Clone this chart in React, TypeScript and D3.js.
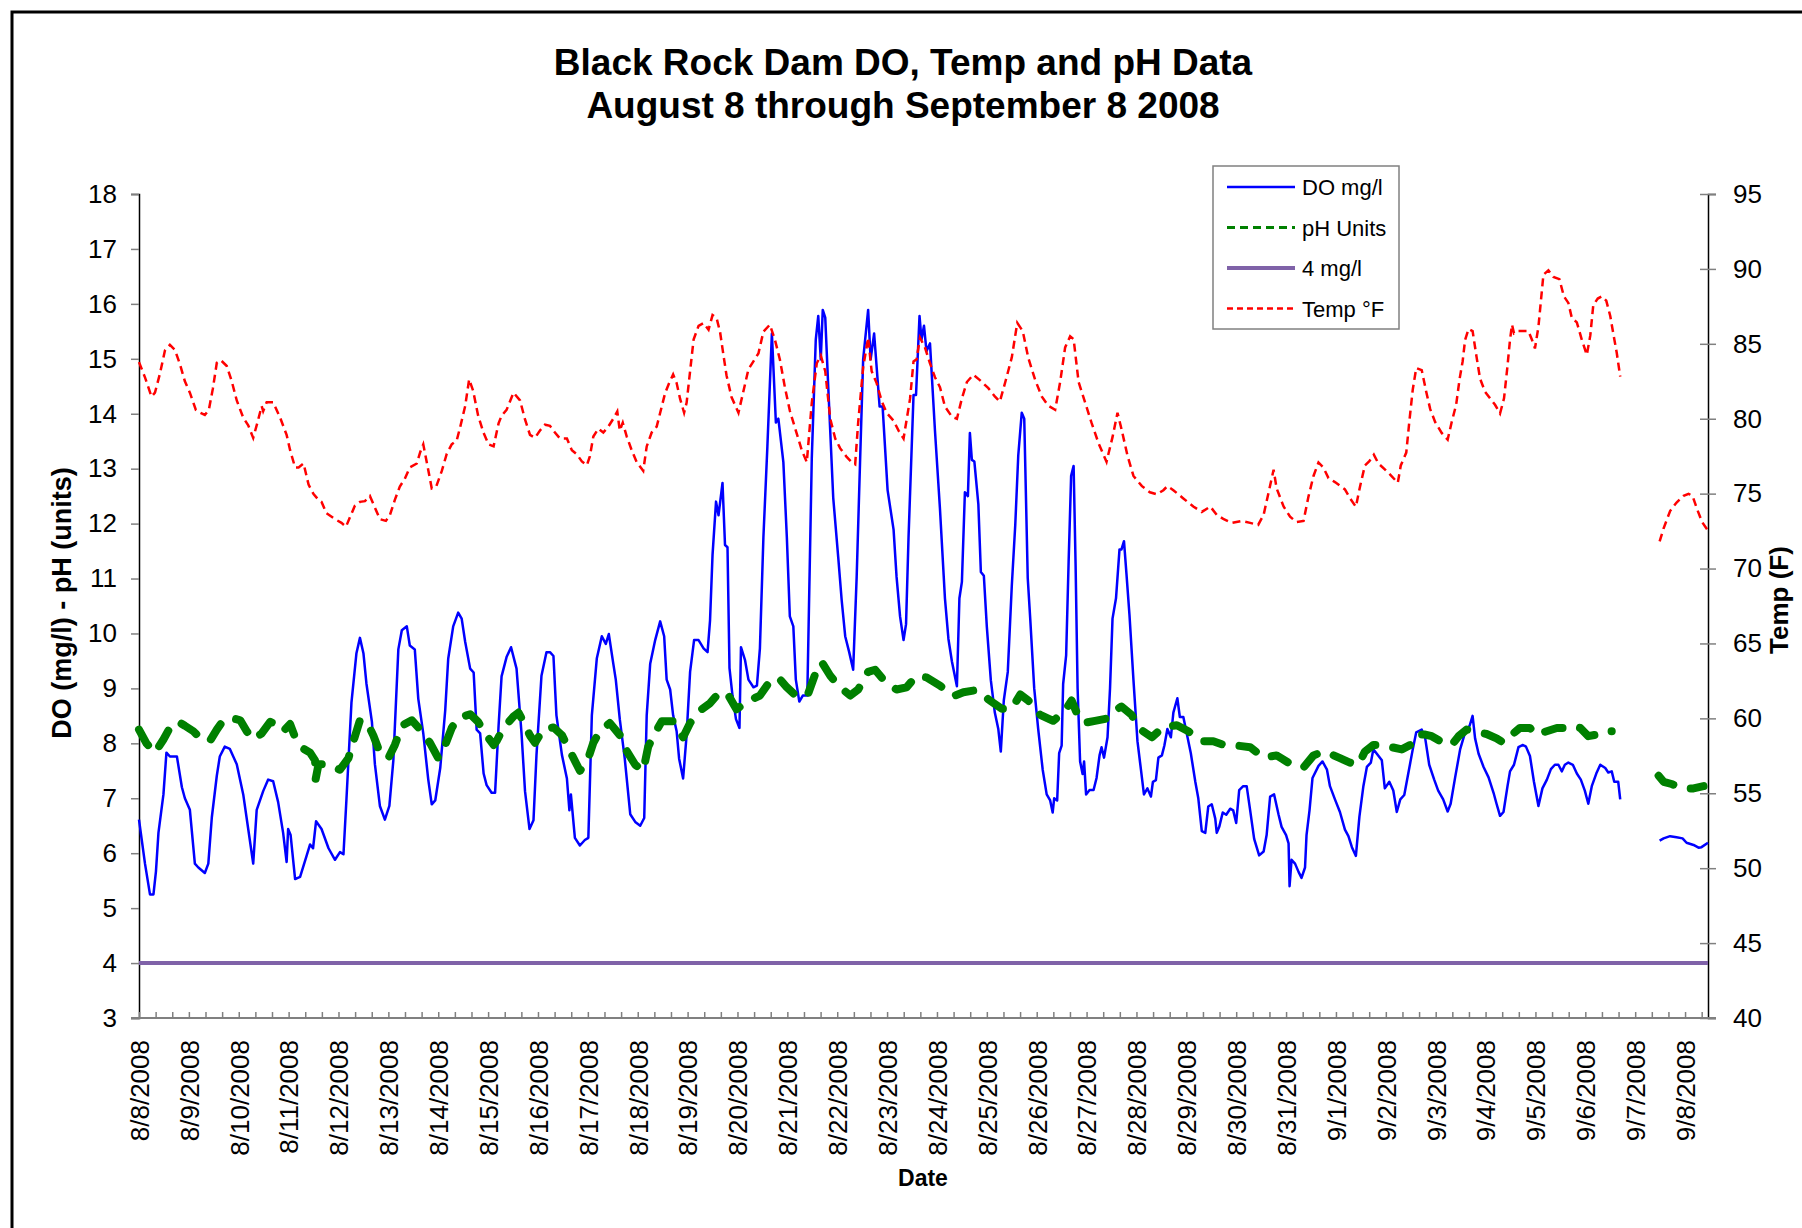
import { useEffect, useRef } from 'react';
import * as d3 from 'd3';

// Category labels under the x axis (one per day, on tick marks)
const dateLabels = [
  '8/8/2008', '8/9/2008', '8/10/2008', '8/11/2008', '8/12/2008', '8/13/2008', '8/14/2008', '8/15/2008',
  '8/16/2008', '8/17/2008', '8/18/2008', '8/19/2008', '8/20/2008', '8/21/2008', '8/22/2008', '8/23/2008',
  '8/24/2008', '8/25/2008', '8/26/2008', '8/27/2008', '8/28/2008', '8/29/2008', '8/30/2008', '8/31/2008',
  '9/1/2008', '9/2/2008', '9/3/2008', '9/4/2008', '9/5/2008', '9/6/2008', '9/7/2008', '9/8/2008',
];
const leftTicks = [3, 4, 5, 6, 7, 8, 9, 10, 11, 12, 13, 14, 15, 16, 17, 18];
const rightTicks = [40, 45, 50, 55, 60, 65, 70, 75, 80, 85, 90, 95];
const axisEndDay = 31.46;
const doLimit = 4;

type Pt = [number, number] | null;

// [days since 8/8 00:00, value]; null = logger gap
const doReadings: Pt[] = [
  [0.00, 6.61], [0.12, 5.81], [0.22, 5.25], [0.29, 5.25], [0.34, 5.67], [0.39, 6.37], [0.49, 7.07], [0.55, 7.83],
  [0.62, 7.76], [0.76, 7.76], [0.86, 7.20], [0.92, 7.00], [1.02, 6.79], [1.12, 5.81], [1.19, 5.74], [1.32, 5.64],
  [1.39, 5.81], [1.46, 6.65], [1.56, 7.41], [1.62, 7.76], [1.72, 7.94], [1.82, 7.90], [1.96, 7.62], [2.09, 7.07],
  [2.19, 6.44], [2.29, 5.81], [2.36, 6.79], [2.49, 7.13], [2.59, 7.34], [2.69, 7.31], [2.79, 6.93], [2.89, 6.37],
  [2.96, 5.84], [2.99, 6.44], [3.04, 6.33], [3.13, 5.53], [3.23, 5.57], [3.36, 5.95], [3.43, 6.16], [3.49, 6.09],
  [3.55, 6.58], [3.66, 6.44], [3.80, 6.09], [3.93, 5.88], [4.03, 6.02], [4.10, 5.98], [4.16, 6.99], [4.26, 8.74],
  [4.36, 9.64], [4.43, 9.92], [4.50, 9.64], [4.56, 9.09], [4.67, 8.39], [4.73, 7.62], [4.83, 6.86], [4.93, 6.61],
  [5.02, 6.86], [5.10, 7.69], [5.20, 9.71], [5.27, 10.06], [5.37, 10.13], [5.43, 9.78], [5.53, 9.71], [5.60, 8.81],
  [5.70, 8.18], [5.80, 7.34], [5.87, 6.89], [5.94, 6.96], [6.04, 7.55], [6.14, 8.60], [6.20, 9.54], [6.30, 10.13],
  [6.40, 10.38], [6.47, 10.27], [6.54, 9.85], [6.64, 9.36], [6.71, 9.29], [6.77, 8.25], [6.84, 8.18], [6.91, 7.45],
  [6.97, 7.24], [7.07, 7.10], [7.14, 7.10], [7.21, 8.32], [7.27, 9.22], [7.37, 9.57], [7.46, 9.75], [7.57, 9.36],
  [7.67, 8.18], [7.74, 7.13], [7.83, 6.44], [7.91, 6.60], [7.97, 7.79], [8.07, 9.23], [8.17, 9.66], [8.24, 9.66],
  [8.31, 9.59], [8.37, 8.51], [8.48, 7.79], [8.58, 7.36], [8.63, 6.78], [8.66, 7.07], [8.74, 6.28], [8.84, 6.14],
  [8.94, 6.24], [9.01, 6.28], [9.08, 8.51], [9.18, 9.55], [9.28, 9.95], [9.36, 9.81], [9.42, 9.99], [9.51, 9.45],
  [9.56, 9.16], [9.64, 8.44], [9.74, 7.72], [9.85, 6.71], [9.95, 6.57], [10.05, 6.50], [10.13, 6.64], [10.18, 8.51],
  [10.25, 9.45], [10.35, 9.88], [10.45, 10.22], [10.53, 9.95], [10.58, 9.16], [10.65, 8.98], [10.71, 8.51], [10.78, 8.22],
  [10.83, 7.72], [10.91, 7.36], [10.98, 8.15], [11.05, 9.30], [11.13, 9.88], [11.22, 9.88], [11.32, 9.73], [11.40, 9.66],
  [11.45, 10.24], [11.50, 11.43], [11.57, 12.40], [11.62, 12.15], [11.70, 12.74], [11.75, 11.61], [11.80, 11.57], [11.84, 9.37],
  [11.90, 8.87], [11.97, 8.44], [12.04, 8.28], [12.07, 9.75], [12.15, 9.52], [12.22, 9.16], [12.32, 9.02], [12.39, 9.05],
  [12.45, 9.73], [12.52, 11.75], [12.60, 13.41], [12.69, 15.46], [12.77, 13.84], [12.82, 13.91], [12.92, 13.12], [12.99, 11.75],
  [13.05, 10.31], [13.12, 10.13], [13.17, 9.16], [13.24, 8.76], [13.31, 8.87], [13.40, 8.87], [13.49, 13.19], [13.57, 15.35],
  [13.62, 15.78], [13.67, 14.99], [13.71, 15.89], [13.76, 15.75], [13.82, 14.49], [13.92, 12.47], [14.02, 11.39], [14.09, 10.60],
  [14.16, 9.95], [14.24, 9.66], [14.32, 9.34], [14.39, 11.03], [14.46, 13.19], [14.52, 14.99], [14.62, 15.89], [14.67, 14.99],
  [14.74, 15.46], [14.85, 14.13], [14.91, 14.13], [15.01, 12.61], [15.13, 11.89], [15.19, 11.03], [15.26, 10.31], [15.33, 9.88],
  [15.38, 10.17], [15.43, 11.75], [15.53, 14.34], [15.58, 14.34], [15.65, 15.78], [15.69, 15.35], [15.74, 15.60], [15.79, 15.14],
  [15.86, 15.28], [15.96, 13.69], [16.06, 12.27], [16.16, 10.64], [16.23, 9.90], [16.30, 9.49], [16.40, 9.04], [16.45, 10.64],
  [16.50, 10.94], [16.56, 12.57], [16.62, 12.50], [16.66, 13.65], [16.70, 13.16], [16.75, 13.13], [16.83, 12.35], [16.88, 11.12],
  [16.94, 11.05], [17.00, 10.12], [17.08, 9.15], [17.16, 8.56], [17.23, 8.26], [17.28, 7.85], [17.34, 8.78], [17.42, 9.30],
  [17.50, 10.86], [17.57, 11.98], [17.63, 13.24], [17.70, 14.02], [17.75, 13.91], [17.82, 11.01], [17.87, 10.27], [17.95, 9.00],
  [18.03, 8.26], [18.12, 7.52], [18.20, 7.07], [18.27, 6.96], [18.32, 6.74], [18.35, 7.00], [18.41, 6.96], [18.45, 7.82],
  [18.50, 7.96], [18.53, 9.08], [18.59, 9.60], [18.64, 11.31], [18.69, 12.87], [18.74, 13.05], [18.78, 11.23], [18.82, 9.00],
  [18.87, 7.67], [18.92, 7.44], [18.95, 7.67], [18.99, 7.07], [19.06, 7.15], [19.14, 7.15], [19.20, 7.37], [19.26, 7.78],
  [19.30, 7.93], [19.35, 7.74], [19.42, 8.11], [19.47, 9.00], [19.52, 10.27], [19.59, 10.64], [19.66, 11.53], [19.70, 11.53],
  [19.75, 11.68], [19.80, 11.08], [19.86, 10.34], [19.94, 9.15], [20.02, 8.04], [20.09, 7.52], [20.15, 7.07], [20.22, 7.18],
  [20.29, 7.03], [20.33, 7.30], [20.39, 7.33], [20.44, 7.74], [20.51, 7.78], [20.56, 7.96], [20.62, 8.26], [20.69, 8.11],
  [20.74, 8.56], [20.82, 8.82], [20.87, 8.48], [20.94, 8.48], [20.99, 8.26], [21.09, 7.82], [21.18, 7.30], [21.24, 7.00],
  [21.31, 6.40], [21.38, 6.37], [21.44, 6.85], [21.51, 6.89], [21.58, 6.63], [21.61, 6.37], [21.66, 6.48], [21.73, 6.74],
  [21.80, 6.70], [21.88, 6.81], [21.94, 6.78], [22.00, 6.55], [22.06, 7.15], [22.14, 7.22], [22.21, 7.22], [22.28, 6.78],
  [22.36, 6.26], [22.46, 5.96], [22.55, 6.03], [22.61, 6.33], [22.68, 7.03], [22.76, 7.07], [22.85, 6.70], [22.91, 6.48],
  [23.00, 6.33], [23.05, 6.18], [23.07, 5.40], [23.11, 5.88], [23.18, 5.81], [23.25, 5.66], [23.31, 5.55], [23.38, 5.74],
  [23.41, 6.33], [23.47, 6.78], [23.53, 7.37], [23.65, 7.59], [23.73, 7.67], [23.82, 7.52], [23.88, 7.22], [23.98, 6.98],
  [24.08, 6.75], [24.18, 6.43], [24.25, 6.31], [24.32, 6.11], [24.40, 5.95], [24.47, 6.66], [24.55, 7.22], [24.62, 7.57],
  [24.70, 7.65], [24.75, 7.89], [24.82, 7.81], [24.92, 7.69], [24.98, 7.18], [25.07, 7.30], [25.15, 7.14], [25.22, 6.75],
  [25.29, 6.98], [25.37, 7.06], [25.45, 7.45], [25.54, 7.89], [25.61, 8.20], [25.72, 8.25], [25.79, 8.09], [25.87, 7.61],
  [25.97, 7.34], [26.05, 7.14], [26.15, 6.98], [26.24, 6.76], [26.30, 6.90], [26.39, 7.38], [26.49, 7.89], [26.59, 8.20],
  [26.68, 8.32], [26.74, 8.50], [26.79, 8.09], [26.86, 7.81], [26.96, 7.57], [27.06, 7.38], [27.16, 7.10], [27.22, 6.90],
  [27.29, 6.68], [27.36, 6.75], [27.44, 7.22], [27.49, 7.49], [27.57, 7.61], [27.66, 7.93], [27.75, 7.97], [27.81, 7.94],
  [27.89, 7.77], [27.97, 7.30], [28.06, 6.86], [28.14, 7.18], [28.23, 7.34], [28.31, 7.53], [28.39, 7.61], [28.46, 7.61],
  [28.53, 7.49], [28.59, 7.61], [28.66, 7.65], [28.75, 7.61], [28.83, 7.45], [28.91, 7.34], [28.99, 7.14], [29.06, 6.90],
  [29.13, 7.22], [29.22, 7.45], [29.30, 7.61], [29.40, 7.55], [29.46, 7.47], [29.53, 7.49], [29.58, 7.30], [29.66, 7.30],
  [29.70, 6.98], null,
  [30.49, 6.23], [30.57, 6.27], [30.70, 6.31], [30.83, 6.29], [30.95, 6.27], [31.03, 6.19], [31.17, 6.15], [31.27, 6.10],
  [31.33, 6.11], [31.46, 6.19],
];

const phReadings: Pt[] = [
  [0.00, 8.25], [0.15, 8.00], [0.32, 7.83], [0.49, 8.07], [0.66, 8.35], [0.79, 8.39], [0.92, 8.32], [1.09, 8.22],
  [1.26, 8.07], [1.42, 8.04], [1.56, 8.25], [1.69, 8.42], [1.86, 8.46], [2.03, 8.42], [2.16, 8.22], [2.29, 8.07],
  [2.46, 8.18], [2.63, 8.39], [2.76, 8.35], [2.89, 8.22], [3.03, 8.35], [3.13, 8.11], [3.30, 7.90], [3.43, 7.83],
  [3.53, 7.69], [3.54, 7.34], [3.60, 7.62], [3.76, 7.62], [4.03, 7.52], [4.20, 7.73], [4.30, 8.04], [4.43, 8.42],
  [4.57, 8.39], [4.70, 8.14], [4.83, 7.83], [5.00, 7.73], [5.13, 7.97], [5.27, 8.32], [5.47, 8.42], [5.67, 8.22],
  [5.84, 8.00], [6.00, 7.73], [6.14, 7.97], [6.27, 8.28], [6.40, 8.46], [6.64, 8.53], [6.80, 8.39], [6.94, 8.18],
  [7.11, 7.97], [7.17, 8.04], [7.31, 8.28], [7.51, 8.49], [7.61, 8.56], [7.71, 8.39], [7.84, 8.14], [7.94, 8.01],
  [8.11, 8.26], [8.31, 8.29], [8.48, 8.15], [8.64, 7.86], [8.84, 7.50], [8.98, 7.65], [9.11, 8.01], [9.24, 8.22],
  [9.44, 8.37], [9.64, 8.15], [9.78, 7.86], [9.95, 7.61], [10.11, 7.50], [10.21, 7.94], [10.35, 8.19], [10.48, 8.40],
  [10.71, 8.40], [10.91, 8.11], [11.05, 8.37], [11.22, 8.58], [11.45, 8.73], [11.65, 8.94], [11.82, 8.87], [11.98, 8.62],
  [12.19, 8.76], [12.45, 8.87], [12.62, 9.09], [12.82, 9.20], [12.99, 9.02], [13.22, 8.83], [13.42, 8.91], [13.59, 9.34],
  [13.69, 9.48], [13.86, 9.23], [14.02, 9.05], [14.26, 8.87], [14.42, 8.98], [14.62, 9.30], [14.76, 9.34], [14.96, 9.12],
  [15.19, 8.98], [15.39, 9.02], [15.59, 9.23], [15.79, 9.20], [16.06, 9.05], [16.33, 8.86], [16.53, 8.93], [16.80, 8.97],
  [17.06, 8.78], [17.30, 8.63], [17.50, 8.63], [17.67, 8.89], [17.83, 8.78], [18.07, 8.52], [18.33, 8.41], [18.54, 8.56],
  [18.70, 8.78], [18.80, 8.56], [18.94, 8.37], [19.17, 8.41], [19.40, 8.45], [19.50, 8.56], [19.70, 8.67], [19.90, 8.52],
  [20.07, 8.26], [20.31, 8.11], [20.54, 8.30], [20.81, 8.33], [21.04, 8.22], [21.31, 8.04], [21.54, 8.04], [21.78, 7.96],
  [22.01, 7.96], [22.28, 7.93], [22.55, 7.74], [22.81, 7.78], [23.08, 7.63], [23.35, 7.56], [23.55, 7.78], [23.75, 7.85],
  [23.88, 7.81], [24.08, 7.73], [24.28, 7.65], [24.45, 7.61], [24.58, 7.85], [24.75, 7.97], [24.89, 7.97], [25.12, 7.93],
  [25.32, 7.89], [25.49, 7.97], [25.62, 8.16], [25.79, 8.16], [25.92, 8.13], [26.15, 8.01], [26.32, 7.97], [26.46, 8.13],
  [26.62, 8.25], [26.82, 8.21], [27.02, 8.17], [27.22, 8.09], [27.36, 8.01], [27.49, 8.13], [27.69, 8.28], [27.89, 8.28],
  [27.99, 8.16], [28.19, 8.21], [28.43, 8.28], [28.56, 8.28], [28.73, 8.32], [28.90, 8.28], [29.06, 8.13], [29.23, 8.16],
  [29.36, 8.22], [29.53, 8.22], null,
  [30.47, 7.41], [30.57, 7.30], [30.73, 7.26], [30.97, 7.18], [31.17, 7.18], [31.37, 7.22],
];

const tempReadings: Pt[] = [
  [0.00, 83.78], [0.12, 82.76], [0.25, 81.48], [0.32, 81.74], [0.42, 83.01], [0.52, 84.55], [0.62, 84.93], [0.72, 84.60],
  [0.82, 83.65], [0.92, 82.50], [1.02, 81.74], [1.14, 80.59], [1.22, 80.41], [1.32, 80.25], [1.40, 80.59], [1.48, 81.99],
  [1.56, 83.73], [1.64, 83.91], [1.76, 83.52], [1.86, 82.50], [1.96, 81.22], [2.09, 80.07], [2.19, 79.56], [2.29, 78.72],
  [2.37, 79.69], [2.46, 80.84], [2.49, 80.51], [2.56, 81.10], [2.69, 81.10], [2.83, 80.07], [2.96, 78.92], [3.03, 77.90],
  [3.13, 76.75], [3.20, 76.75], [3.30, 77.01], [3.40, 75.60], [3.50, 74.97], [3.60, 74.58], [3.66, 74.45], [3.76, 73.69],
  [3.93, 73.30], [4.06, 73.05], [4.15, 72.79], [4.23, 73.43], [4.33, 74.20], [4.43, 74.45], [4.53, 74.50], [4.63, 74.84],
  [4.73, 74.07], [4.83, 73.30], [4.95, 73.18], [5.03, 73.56], [5.13, 74.58], [5.23, 75.48], [5.33, 75.99], [5.43, 76.75],
  [5.57, 77.01], [5.64, 77.78], [5.70, 78.29], [5.79, 76.75], [5.87, 75.35], [5.96, 75.48], [6.07, 76.50], [6.17, 77.65],
  [6.27, 78.29], [6.37, 78.54], [6.44, 79.44], [6.54, 80.84], [6.62, 82.63], [6.70, 81.86], [6.80, 80.20], [6.91, 79.05],
  [7.01, 78.29], [7.11, 78.16], [7.21, 79.69], [7.27, 80.20], [7.37, 80.59], [7.51, 81.74], [7.64, 81.22], [7.74, 79.95],
  [7.84, 78.92], [7.94, 78.73], [8.04, 79.21], [8.14, 79.60], [8.24, 79.53], [8.34, 79.08], [8.44, 78.68], [8.58, 78.68],
  [8.68, 77.89], [8.78, 77.62], [8.88, 77.15], [8.98, 76.89], [9.04, 77.49], [9.11, 78.81], [9.21, 79.34], [9.31, 79.08],
  [9.41, 79.47], [9.51, 80.00], [9.59, 80.48], [9.64, 79.21], [9.70, 79.74], [9.78, 78.81], [9.88, 77.89], [9.98, 77.10],
  [10.11, 76.52], [10.18, 78.15], [10.28, 79.08], [10.38, 79.47], [10.48, 80.79], [10.55, 81.72], [10.63, 82.38], [10.71, 82.96],
  [10.78, 82.38], [10.85, 81.32], [10.93, 80.40], [10.98, 81.06], [11.05, 83.17], [11.12, 85.28], [11.22, 86.20], [11.32, 86.39],
  [11.42, 85.94], [11.50, 86.92], [11.58, 86.73], [11.65, 85.81], [11.72, 84.22], [11.78, 82.90], [11.88, 81.45], [12.02, 80.40],
  [12.12, 81.85], [12.22, 83.30], [12.32, 83.83], [12.42, 84.36], [12.52, 85.81], [12.65, 86.28], [12.75, 85.28], [12.85, 83.96],
  [12.95, 82.11], [13.05, 80.53], [13.17, 79.21], [13.29, 77.89], [13.39, 77.10], [13.49, 81.06], [13.59, 83.70], [13.67, 84.22],
  [13.76, 83.17], [13.86, 80.00], [13.96, 78.68], [14.06, 78.02], [14.18, 77.49], [14.29, 77.10], [14.36, 76.96], [14.42, 79.74],
  [14.52, 83.43], [14.62, 85.41], [14.69, 83.17], [14.79, 82.38], [14.89, 81.19], [14.99, 80.40], [15.13, 79.87], [15.23, 79.21],
  [15.33, 78.68], [15.46, 81.32], [15.53, 83.83], [15.59, 83.96], [15.66, 85.41], [15.76, 84.75], [15.86, 83.70], [15.96, 82.77],
  [16.06, 82.11], [16.16, 80.81], [16.30, 80.13], [16.40, 80.00], [16.50, 81.36], [16.60, 82.45], [16.73, 82.94], [16.86, 82.58],
  [17.03, 82.04], [17.16, 81.49], [17.26, 81.14], [17.37, 82.45], [17.50, 84.08], [17.61, 86.40], [17.72, 85.85], [17.83, 84.08],
  [17.97, 82.58], [18.10, 81.49], [18.23, 80.87], [18.37, 80.60], [18.47, 82.45], [18.57, 84.76], [18.67, 85.50], [18.74, 85.31],
  [18.84, 82.45], [18.97, 81.09], [19.10, 79.72], [19.24, 78.36], [19.40, 77.13], [19.52, 78.77], [19.62, 80.40], [19.70, 79.31],
  [19.82, 77.54], [19.94, 76.18], [20.11, 75.50], [20.27, 75.09], [20.41, 74.95], [20.54, 75.23], [20.62, 75.50], [20.74, 75.23],
  [20.94, 74.68], [21.14, 74.14], [21.31, 73.78], [21.48, 74.14], [21.61, 73.59], [21.74, 73.32], [21.91, 73.05], [22.11, 73.18],
  [22.28, 73.05], [22.44, 72.91], [22.55, 73.59], [22.65, 75.09], [22.75, 76.59], [22.81, 75.36], [22.95, 74.14], [23.08, 73.46],
  [23.21, 73.10], [23.35, 73.18], [23.45, 74.82], [23.55, 76.18], [23.65, 77.08], [23.75, 76.73], [23.85, 76.04], [23.98, 75.77],
  [24.18, 75.28], [24.28, 74.70], [24.40, 74.12], [24.48, 75.43], [24.58, 76.88], [24.67, 77.17], [24.76, 77.60], [24.85, 77.02],
  [24.99, 76.59], [25.12, 76.15], [25.24, 75.72], [25.30, 76.88], [25.41, 77.74], [25.47, 79.77], [25.54, 81.94], [25.61, 83.39],
  [25.72, 83.24], [25.81, 81.80], [25.89, 80.64], [25.99, 79.77], [26.12, 79.05], [26.24, 78.61], [26.32, 79.77], [26.41, 80.93],
  [26.48, 82.67], [26.54, 83.82], [26.59, 85.27], [26.66, 85.99], [26.74, 85.85], [26.82, 84.11], [26.89, 82.67], [26.99, 81.80],
  [27.09, 81.36], [27.19, 80.93], [27.29, 80.35], [27.37, 81.36], [27.44, 83.53], [27.49, 85.27], [27.53, 86.28], [27.57, 85.70],
  [27.66, 85.85], [27.76, 85.85], [27.86, 85.85], [27.93, 85.27], [27.99, 84.69], [28.06, 86.14], [28.11, 87.88], [28.16, 89.61],
  [28.26, 89.90], [28.36, 89.47], [28.48, 89.32], [28.57, 88.17], [28.66, 87.73], [28.73, 86.72], [28.83, 86.43], [28.93, 85.27],
  [29.03, 84.26], [29.10, 85.56], [29.16, 87.59], [29.25, 88.02], [29.33, 88.17], [29.42, 87.88], [29.50, 86.86], [29.56, 85.70],
  [29.63, 84.40], [29.70, 82.81], null,
  [30.49, 71.81], [30.57, 72.68], [30.70, 73.84], [30.83, 74.41], [30.97, 74.85], [31.07, 74.99], [31.15, 74.85], [31.24, 73.98],
  [31.34, 73.11], [31.46, 72.53],
];

const legendItems = [
  { label: 'DO mg/l', color: '#0000FF', width: 2.5, dash: null },
  { label: 'pH Units', color: '#008000', width: 3, dash: '8 5' },
  { label: '4 mg/l', color: '#7F62A8', width: 4, dash: null },
  { label: 'Temp °F', color: '#FF0000', width: 2.5, dash: '6 4' },
];

const W = 1802;
const H = 1228;
const FONT = '"Liberation Sans", Arial, Helvetica, sans-serif';

export default function App() {
  const svgRef = useRef<SVGSVGElement>(null);

  useEffect(() => {
    if (!svgRef.current) return;
    const svg = d3.select(svgRef.current);
    svg.selectAll('*').remove();

    const margin = { top: 194, right: 94, bottom: 210, left: 139 };
    const width = W - margin.left - margin.right;
    const height = H - margin.top - margin.bottom;

    // chart frame (runs off the right / bottom edges like the original)
    svg.append('rect')
      .attr('x', 12).attr('y', 12)
      .attr('width', W).attr('height', H)
      .attr('fill', '#fff').attr('stroke', '#000').attr('stroke-width', 3);

    // title
    const title = svg.append('text')
      .attr('text-anchor', 'middle')
      .attr('font-family', FONT).attr('font-weight', 'bold').attr('font-size', 37);
    title.append('tspan').attr('x', 903).attr('y', 75).text('Black Rock Dam DO, Temp and pH Data');
    title.append('tspan').attr('x', 903).attr('y', 118).text('August 8 through September 8 2008');

    const g = svg.append('g').attr('transform', `translate(${margin.left},${margin.top})`);

    const x = d3.scaleLinear().domain([0, axisEndDay]).range([0, width]);
    const yL = d3.scaleLinear().domain([3, 18]).range([height, 0]);
    const yR = d3.scaleLinear().domain([40, 95]).range([height, 0]);

    // left axis
    const left = g.append('g')
      .call(d3.axisLeft(yL).tickValues(leftTicks).tickSize(8).tickPadding(14).tickFormat(d3.format('d')));
    left.select('.domain').attr('stroke', '#000').attr('stroke-width', 1.5);
    left.selectAll('.tick line').attr('stroke', '#808080').attr('stroke-width', 1.5);
    left.selectAll('text').attr('font-family', FONT).attr('font-size', 26).attr('fill', '#000');

    // right axis (ticks cross the line)
    const right = g.append('g')
      .attr('transform', `translate(${width},0)`)
      .call(d3.axisRight(yR).tickValues(rightTicks).tickSize(8).tickPadding(17).tickFormat(d3.format('d')));
    right.select('.domain').attr('stroke', '#000').attr('stroke-width', 1.5);
    right.selectAll('.tick line').attr('x1', -8).attr('stroke', '#808080').attr('stroke-width', 1.5);
    right.selectAll('text').attr('font-family', FONT).attr('font-size', 26).attr('fill', '#000');

    // bottom axis: minor ticks every 8 h pointing inward
    const minorTicks = d3.range(0, axisEndDay + 1e-6, 1 / 3);
    const minor = g.append('g')
      .attr('transform', `translate(0,${height})`)
      .call(d3.axisBottom(x).tickValues(minorTicks).tickSize(-6).tickFormat(() => ''));
    minor.select('.domain').remove();
    minor.selectAll('.tick line').attr('stroke', '#808080').attr('stroke-width', 1.5);
    g.append('line')
      .attr('x1', -8).attr('x2', width + 8)
      .attr('y1', height).attr('y2', height)
      .attr('stroke', '#808080').attr('stroke-width', 2);

    // date labels
    const bottom = g.append('g')
      .attr('transform', `translate(0,${height})`)
      .call(d3.axisBottom(x).tickValues(dateLabels.map((_, i) => i)).tickSize(0).tickFormat((d) => dateLabels[d as number]));
    bottom.select('.domain').remove();
    bottom.selectAll('text')
      .attr('font-family', FONT).attr('font-size', 26).attr('fill', '#000')
      .attr('transform', 'rotate(-90)')
      .attr('text-anchor', 'end')
      .attr('x', -22).attr('y', 0).attr('dy', '0.36em');

    // axis titles
    svg.append('text')
      .attr('x', 923).attr('y', 1186).attr('text-anchor', 'middle')
      .attr('font-family', FONT).attr('font-weight', 'bold').attr('font-size', 23)
      .text('Date');
    svg.append('text')
      .attr('transform', 'translate(61,603) rotate(-90)').attr('text-anchor', 'middle').attr('dy', '0.36em')
      .attr('font-family', FONT).attr('font-weight', 'bold').attr('font-size', 27)
      .text('DO (mg/l) - pH (units)');
    svg.append('text')
      .attr('transform', 'translate(1779,600) rotate(-90)').attr('text-anchor', 'middle').attr('dy', '0.36em')
      .attr('font-family', FONT).attr('font-weight', 'bold').attr('font-size', 26)
      .text('Temp (F)');

    const lineL = d3.line<Pt>()
      .defined((d) => d !== null)
      .x((d) => x((d as [number, number])[0]))
      .y((d) => yL((d as [number, number])[1]));
    const lineR = d3.line<Pt>()
      .defined((d) => d !== null)
      .x((d) => x((d as [number, number])[0]))
      .y((d) => yR((d as [number, number])[1]));

    // DO
    g.append('path').datum(doReadings)
      .attr('d', lineL).attr('fill', 'none')
      .attr('stroke', '#0000FF').attr('stroke-width', 2.5).attr('stroke-linejoin', 'round');

    // pH
    g.append('path').datum(phReadings)
      .attr('d', lineL).attr('fill', 'none')
      .attr('stroke', '#008000').attr('stroke-width', 8)
      .attr('stroke-dasharray', '18 18').attr('stroke-linecap', 'round').attr('stroke-linejoin', 'round');

    // 4 mg/l threshold
    g.append('path').datum([[0, doLimit], [axisEndDay, doLimit]] as Pt[])
      .attr('d', lineL).attr('fill', 'none')
      .attr('stroke', '#7F62A8').attr('stroke-width', 4);

    // Temp
    g.append('path').datum(tempReadings)
      .attr('d', lineR).attr('fill', 'none')
      .attr('stroke', '#FF0000').attr('stroke-width', 2.5)
      .attr('stroke-dasharray', '8 5');

    // legend
    const lg = svg.append('g').attr('transform', 'translate(1213,166)');
    lg.append('rect').attr('width', 186).attr('height', 163)
      .attr('fill', '#fff').attr('stroke', '#808080').attr('stroke-width', 1.5);
    legendItems.forEach((item, i) => {
      const cy = 21 + i * 40.5;
      const row = lg.append('g').attr('transform', `translate(0,${cy})`);
      row.append('line')
        .attr('x1', 14).attr('x2', 82).attr('y1', 0).attr('y2', 0)
        .attr('stroke', item.color).attr('stroke-width', item.width)
        .attr('stroke-dasharray', item.dash ?? null);
      row.append('text')
        .attr('x', 89).attr('y', 8)
        .attr('font-family', FONT).attr('font-size', 22).attr('fill', '#000')
        .text(item.label);
    });
  }, []);

  return (
    <svg
      ref={svgRef}
      width={W}
      height={H}
      style={{ position: 'absolute', left: 0, top: 0, background: '#fff' }}
    />
  );
}
